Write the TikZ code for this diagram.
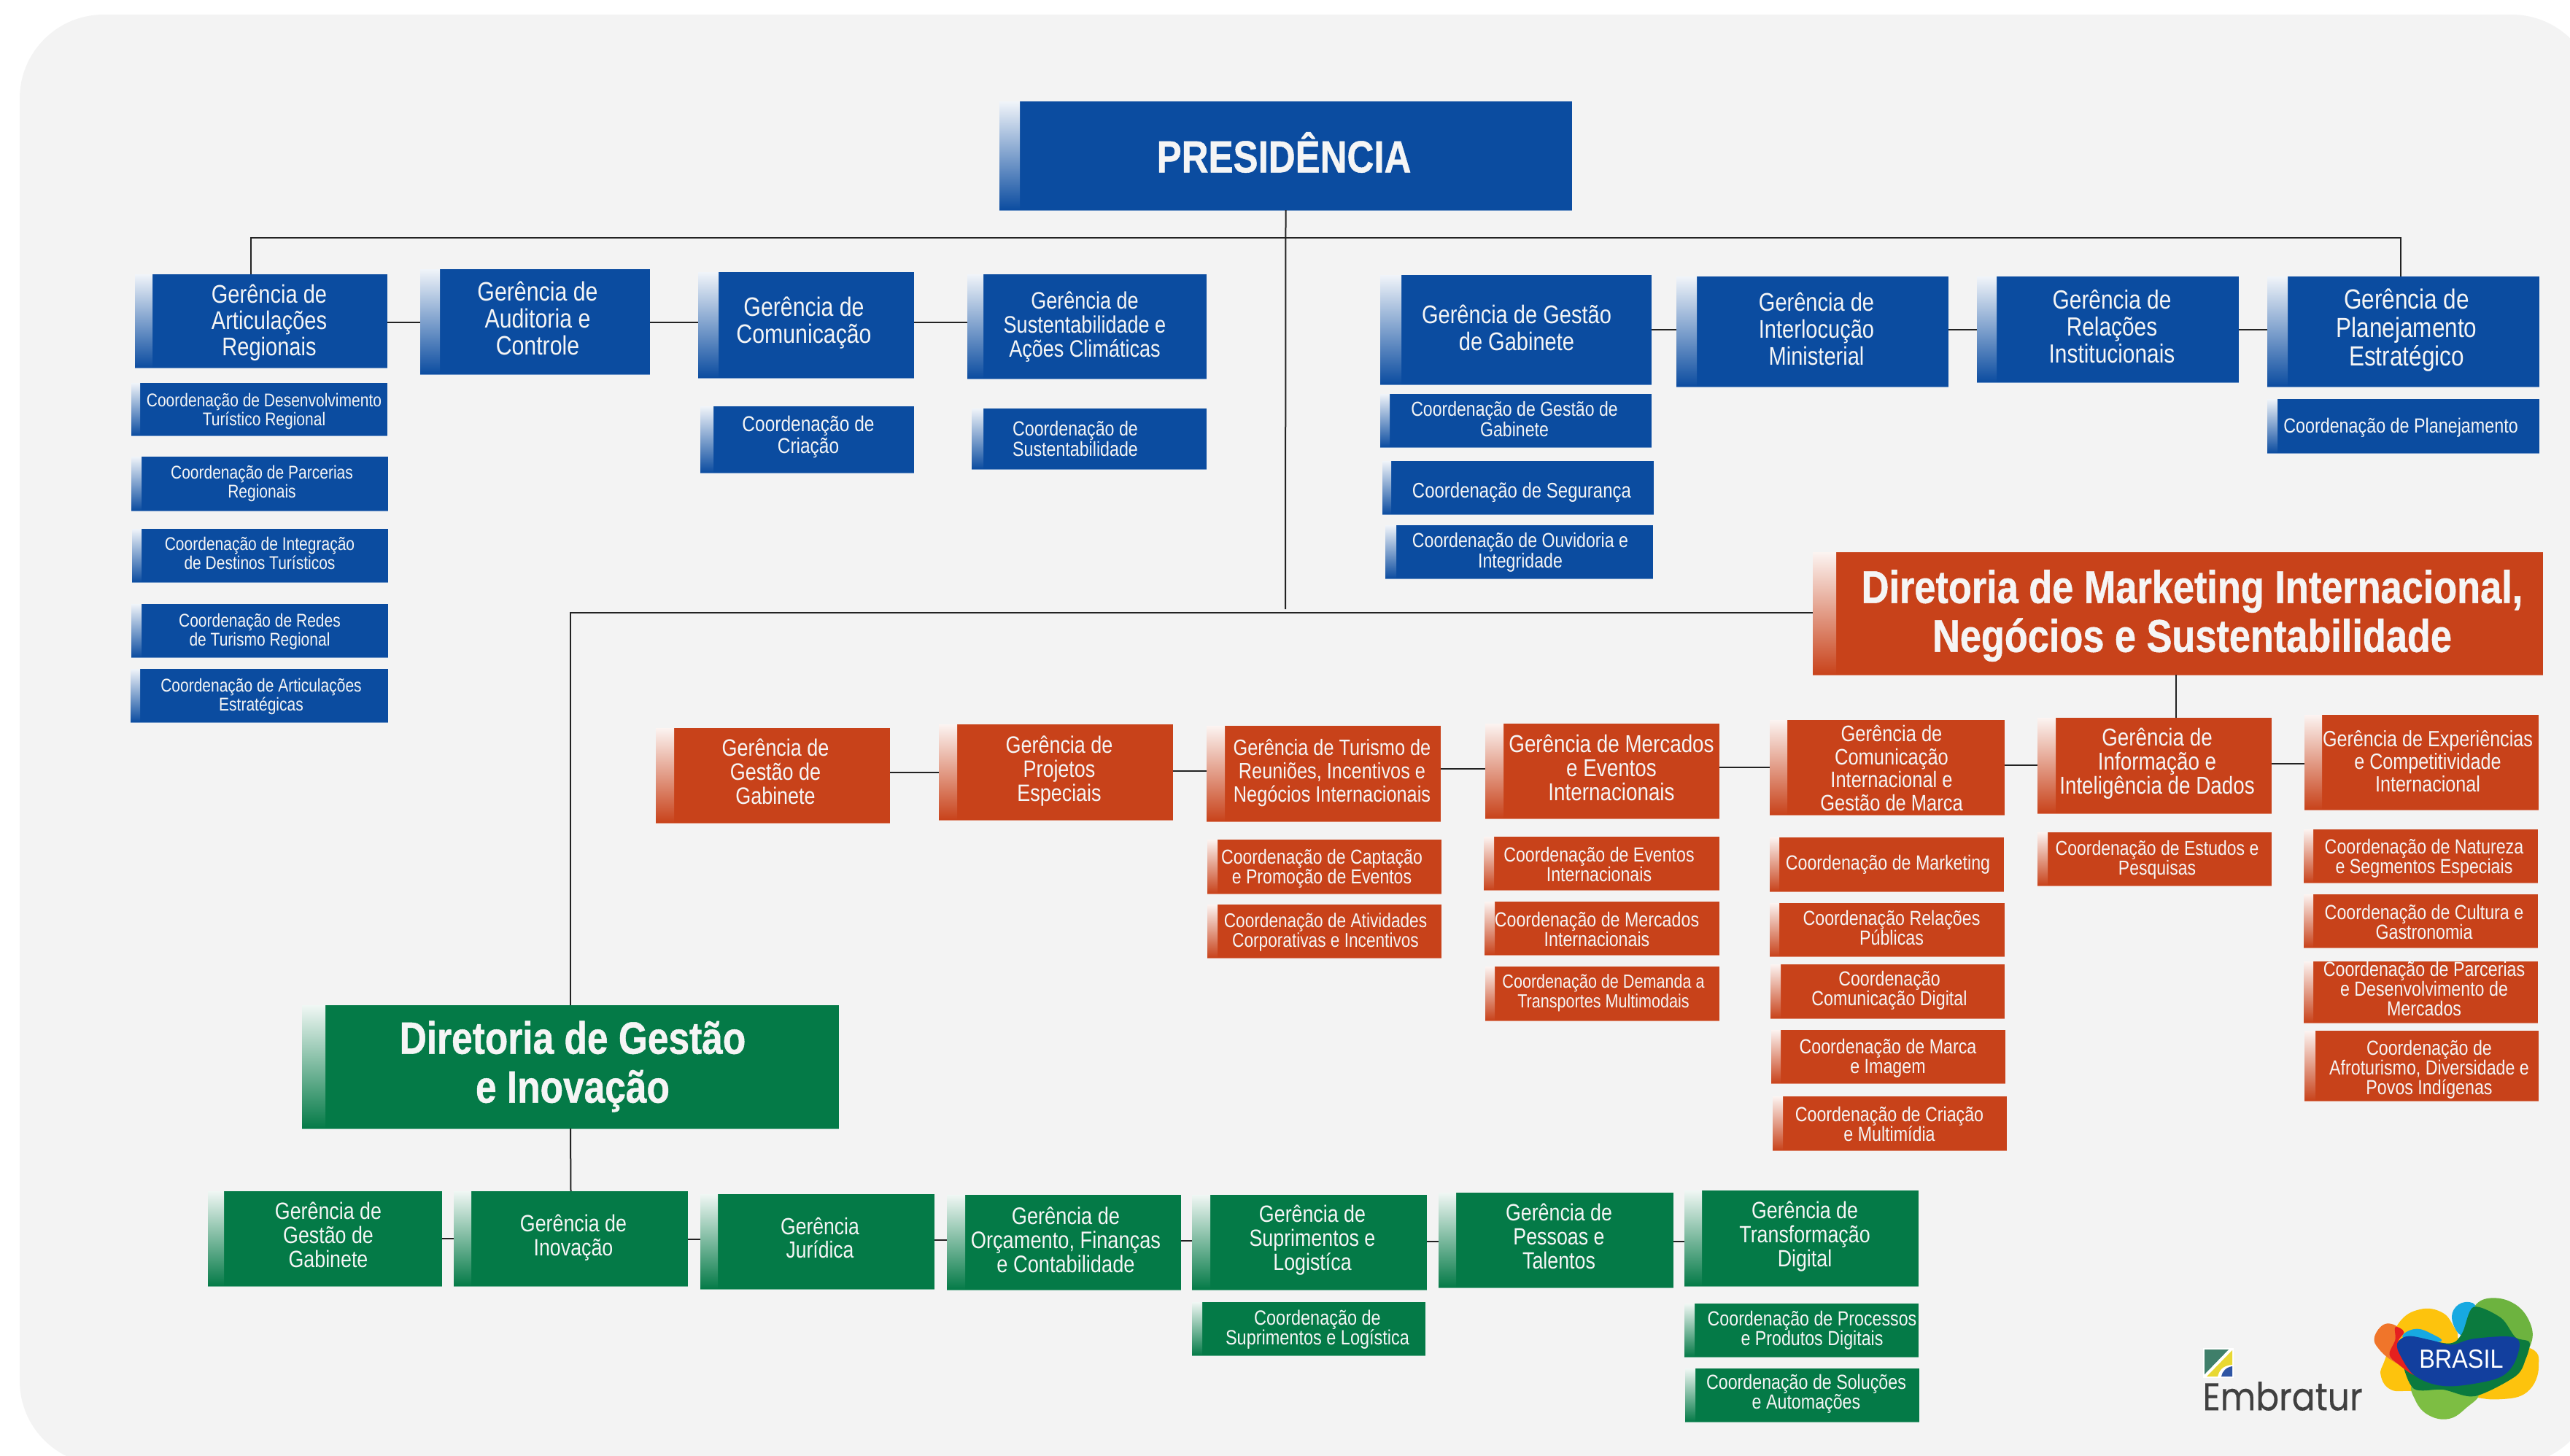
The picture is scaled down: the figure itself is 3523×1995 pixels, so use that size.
\documentclass[tikz,border=0pt]{standalone}
\usepackage{fontspec}
\setmainfont{Liberation Sans}
\newfontfamily\rcn[FakeStretch=0.83]{Liberation Sans}
\newfontfamily\rcb[FakeStretch=0.83,BoldFeatures={FakeBold=0.8}]{Liberation Sans}
\newfontfamily\brfont[FakeStretch=0.90]{Liberation Sans}
\newfontfamily\embfont[FakeStretch=0.89,FakeBold=0.3]{Poppins}
\definecolor{bluebox}{HTML}{0B4CA0}
\definecolor{redbox}{HTML}{C8421A}
\definecolor{greenbox}{HTML}{047A47}
\definecolor{pagebg}{HTML}{F3F3F3}
\definecolor{linecol}{HTML}{222222}
\definecolor{emgreen}{HTML}{3F7F6A}
\definecolor{emyellow}{HTML}{E8D832}
\definecolor{emblue}{HTML}{2F55A4}
\definecolor{logoyellow}{HTML}{FDC30D}
\definecolor{logogreen}{HTML}{6DB33F}
\definecolor{logocyan}{HTML}{17A9E1}
\definecolor{logolime}{HTML}{7DBE43}
\definecolor{logodark}{HTML}{0B7A3E}
\definecolor{logoorange}{HTML}{F0752A}
\definecolor{logored}{HTML}{E5201F}
\definecolor{logoblue}{HTML}{123F9E}
\def\bxgeom#1,#2,#3,#4,#5;{\def\bxXa{#1}\def\bxYa{#2}\def\bxXb{#3}\def\bxYb{#4}\def\bxXg{#5}}
\def\bxtxt#1,#2,#3,#4;{\def\bxTx{#1}\def\bxTy{#2}\def\bxFs{#3}\def\bxFl{#4}}
\newcommand\bx[6]{\bxgeom#2;\bxtxt#4;%
 \pgfmathsetmacro\bxCx{(\bxXa+\bxXb)/2}\pgfmathsetmacro\bxCy{(\bxYa+\bxYb)/2}%
 \pgfmathsetmacro\bxW{\bxXb-\bxXa}\pgfmathsetmacro\bxH{\bxYb-\bxYa}%
 \node[orgbox,fill=#3,minimum width=\bxW pt,minimum height=\bxH pt] (#1) at (\bxCx,\bxCy) {};%
 \shade[top color=#3!6!white,bottom color=#3] (\bxXa,\bxYa) rectangle (\bxXg,\bxYb);%
 \draw[#3!60!white,line width=1.4pt] (#1.south west) -- (#1.south east);%
 \node[orglabel,font=\fontsize{\bxFs}{\bxFl}\selectfont#5] (#1-t) at (\bxTx,\bxTy) {#6};}
\newcommand\hconn[3]{\draw[hline] (#1.east |- 0,#3) -- (#2.west |- 0,#3);}
\tikzset{
 orgbox/.style={rectangle,inner sep=0pt,draw=none},
 orglabel/.style={inner sep=0pt,align=center,text=white!96!black},
 hline/.style={draw=linecol,line width=2.6pt},
 vline/.style={draw=linecol,line width=2pt},
}
\begin{document}
\begin{tikzpicture}[x=1pt,y=-1pt]
\useasboundingbox (0,0) rectangle (3523,1995);
\clip (0,0) rectangle (3523,1995);
\fill[white] (0,0) rectangle (3523,1995);
\fill[pagebg,rounded corners=115pt] (27,20) rectangle (3558,2008);

% connector free ends
\coordinate (busL) at (344,326);
\coordinate (busR) at (3291,326);
\coordinate (busEnd) at (1762,835);
\coordinate (dirCorner) at (782,840);

% Presidencia
\bx{pres}{1370,139,2155,288,1398}{bluebox}{1760,209,61.5,70}{\rcb\bfseries}{PRESIDÊNCIA}

% Blue gerencias
\bx{gart}{185,376,531,504,209}{bluebox}{369,442,35,36}{\rcn}{Gerência de\\Articulações\\Regionais}
\bx{gaud}{576,369,891,513,603}{bluebox}{737,436,36.5,37}{\rcn}{Gerência de\\Auditoria e\\Controle}
\bx{gcom}{957,373,1253,518,985}{bluebox}{1102,443,36.5,37}{\rcn}{Gerência de\\Comunicação}
\bx{gsus}{1326,376,1654,519,1348}{bluebox}{1487,448,32.6,33}{\rcn}{Gerência de\\Sustentabilidade e\\Ações Climáticas}
\bx{ggab}{1892,377,2264,527,1921}{bluebox}{2079,449,35,37}{\rcn}{Gerência de Gestão\\de Gabinete}
\bx{gint}{2298,379,2671,530,2326}{bluebox}{2490,451,35,37}{\rcn}{Gerência de\\Interlocução\\Ministerial}
\bx{grel}{2710,379,3069,524,2737}{bluebox}{2895,448,36,37}{\rcn}{Gerência de\\Relações\\Institucionais}
\bx{gpla}{3108,379,3481,530,3136}{bluebox}{3299,453,38,39}{\rcn}{Gerência de\\Planejamento\\Estratégico}

% Blue coordenacoes
\bx{cdes}{180,525,531,597,192}{bluebox}{362,564,25.3,26}{\rcn}{Coordenação de Desenvolvimento\\Turístico Regional}
\bx{cpar}{180,626,532,700,194}{bluebox}{359,663,25.3,26}{\rcn}{Coordenação de Parcerias\\Regionais}
\bx{cint}{181,725,532,798,194}{bluebox}{356,758,25.3,26}{\rcn}{Coordenação de Integração\\de Destinos Turísticos}
\bx{cred}{180,828,532,901,194}{bluebox}{356,866,25.3,26}{\rcn}{Coordenação de Redes\\de Turismo Regional}
\bx{cart}{179,917,532,990,192}{bluebox}{358,955,25.3,26}{\rcn}{Coordenação de Articulações\\Estratégicas}
\bx{ccri}{960,557,1253,648,978}{bluebox}{1108,599,29.5,30}{\rcn}{Coordenação de\\Criação}
\bx{csus}{1332,560,1654,643,1348}{bluebox}{1474,601,28,28}{\rcn}{Coordenação de\\Sustentabilidade}
\bx{cgab}{1892,540,2264,613,1905}{bluebox}{2076,575,27.8,28}{\rcn}{Coordenação de Gestão de\\Gabinete}
\bx{cseg}{1895,632,2267,705,1907}{bluebox}{2086,675,28.9,29}{\rcn}{Coordenação de Segurança}
\bx{couv}{1899,720,2266,793,1914}{bluebox}{2084,757,27.9,28}{\rcn}{Coordenação de Ouvidoria e\\Integridade}
\bx{cpla}{3108,547,3481,621,3122}{bluebox}{3291,586,28.1,28}{\rcn}{Coordenação de Planejamento}

% Diretoria Marketing
\bx{dmkt}{2485,757,3486,925,2517}{redbox}{3005,844,63,67}{\rcb\bfseries}{Diretoria de Marketing Internacional,\\Negócios e Sustentabilidade}

% Red gerencias
\bx{rgab}{899,998,1220,1128,924}{redbox}{1063,1058,32.5,33}{\rcn}{Gerência de\\Gestão de\\Gabinete}
\bx{rpro}{1287,993,1608,1124,1312}{redbox}{1452,1057,32.5,33}{\rcn}{Gerência de\\Projetos\\Especiais}
\bx{rtur}{1654,995,1975,1126,1679}{redbox}{1826,1060,30.5,32}{\rcn}{Gerência de Turismo de\\Reuniões, Incentivos e\\Negócios Internacionais}
\bx{rmer}{2036,992,2357,1122,2061}{redbox}{2209,1052,33.5,33}{\rcn}{Gerência de Mercados\\e Eventos\\Internacionais}
\bx{rcom}{2426,987,2748,1117,2450}{redbox}{2593,1053,30.7,31.7}{\rcn}{Gerência de\\Comunicação\\Internacional e\\Gestão de Marca}
\bx{rinf}{2793,984,3114,1115,2818}{redbox}{2957,1047,33.5,33}{\rcn}{Gerência de\\Informação e\\Inteligência de Dados}
\bx{rexp}{3159,980,3480,1110,3183}{redbox}{3328,1044,30.3,31}{\rcn}{Gerência de Experiências\\e Competitividade\\Internacional}

% Red coordenacoes
\bx{rcap}{1655,1151,1976,1225,1669}{redbox}{1812,1191,27.8,27}{\rcn}{Coordenação de Captação\\e Promoção de Eventos}
\bx{rati}{1655,1240,1976,1313,1669}{redbox}{1817,1278,27.3,27}{\rcn}{Coordenação de Atividades\\Corporativas e Incentivos}
\bx{reve}{2034,1147,2357,1220,2048}{redbox}{2192,1185,27.9,27}{\rcn}{Coordenação de Eventos\\Internacionais}
\bx{rmin}{2035,1236,2357,1309,2049}{redbox}{2189,1274,28,27}{\rcn}{Coordenação de Mercados\\Internacionais}
\bx{rdem}{2036,1325,2357,1399,2049}{redbox}{2198,1361,26,27}{\rcn}{Coordenação de Demanda a\\Transportes Multimodais}
\bx{rmkt}{2426,1148,2747,1222,2439}{redbox}{2588,1185,28,27}{\rcn}{Coordenação de Marketing}
\bx{rrel}{2426,1238,2748,1311,2439}{redbox}{2593,1272,28,27}{\rcn}{Coordenação Relações\\Públicas}
\bx{rdig}{2427,1322,2748,1396,2441}{redbox}{2590,1358,28,27}{\rcn}{Coordenação\\Comunicação Digital}
\bx{rmar}{2428,1412,2749,1485,2441}{redbox}{2588,1451,28,27}{\rcn}{Coordenação de Marca\\e Imagem}
\bx{rcri}{2430,1503,2751,1577,2444}{redbox}{2590,1541,28,27}{\rcn}{Coordenação de Criação\\e Multimídia}
\bx{rest}{2793,1141,3114,1214,2807}{redbox}{2957,1179,27.7,27}{\rcn}{Coordenação de Estudos e\\Pesquisas}
\bx{rnat}{3158,1137,3479,1210,3171}{redbox}{3323,1177,28,27}{\rcn}{Coordenação de Natureza\\e Segmentos Especiais}
\bx{rcul}{3158,1226,3479,1299,3171}{redbox}{3323,1264,28,27}{\rcn}{Coordenação de Cultura e\\Gastronomia}
\bx{rpar}{3158,1318,3479,1402,3171}{redbox}{3323,1355,28,27}{\rcn}{Coordenação de Parcerias\\e Desenvolvimento de\\Mercados}
\bx{rafr}{3159,1413,3480,1509,3174}{redbox}{3330,1466,28,27}{\rcn}{Coordenação de\\Afroturismo, Diversidade e\\Povos Indígenas}

% Diretoria Gestao
\bx{dges}{414,1378,1150,1547,446}{greenbox}{785,1462,62,67}{\rcb\bfseries}{Diretoria de Gestão\\e Inovação}

% Green gerencias
\bx{vgab}{285,1633,606,1763,307}{greenbox}{450,1693,32.3,33}{\rcn}{Gerência de\\Gestão de\\Gabinete}
\bx{vino}{622,1633,943,1763,646}{greenbox}{786,1697,32.3,33}{\rcn}{Gerência de\\Inovação}
\bx{vjur}{960,1637,1281,1767,984}{greenbox}{1124,1697,32,32}{\rcn}{Gerência\\Jurídica}
\bx{vorc}{1298,1638,1619,1768,1323}{greenbox}{1461,1700,32.8,33}{\rcn}{Gerência de\\Orçamento, Finanças\\e Contabilidade}
\bx{vsup}{1634,1638,1956,1768,1659}{greenbox}{1799,1700,32.3,33}{\rcn}{Gerência de\\Suprimentos e\\Logistíca}
\bx{vpes}{1972,1635,2294,1765,1996}{greenbox}{2137,1695,32.3,33}{\rcn}{Gerência de\\Pessoas e\\Talentos}
\bx{vtra}{2309,1632,2630,1763,2333}{greenbox}{2474,1695,32.3,33}{\rcn}{Gerência de\\Transformação\\Digital}

% Green coordenacoes
\bx{vcsu}{1634,1785,1954,1858,1648}{greenbox}{1806,1823,28.3,27}{\rcn}{Coordenação de\\Suprimentos e Logística}
\bx{vcpr}{2309,1787,2630,1860,2323}{greenbox}{2484,1824,28,27}{\rcn}{Coordenação de Processos\\e Produtos Digitais}
\bx{vcso}{2310,1876,2631,1949,2324}{greenbox}{2476,1911,28,27}{\rcn}{Coordenação de Soluções\\e Automações}

% Connectors
\draw[vline] (pres.south) -- (busEnd);
\draw[vline] (gart.north -| busL) -- (busL) -- (busR) -- (gpla.north -| busR);
\hconn{gart}{gaud}{442}
\hconn{gaud}{gcom}{442}
\hconn{gcom}{gsus}{442}
\hconn{ggab}{gint}{452}
\hconn{gint}{grel}{452}
\hconn{grel}{gpla}{452}
\draw[vline] (dmkt.west |- 0,840) -- (dirCorner) -- (dges.north);
\draw[vline] (dmkt.south -| 2983,0) -- (rinf.north -| 2983,0);
\hconn{rgab}{rpro}{1059}
\hconn{rpro}{rtur}{1057}
\hconn{rtur}{rmer}{1054}
\hconn{rmer}{rcom}{1052}
\hconn{rcom}{rinf}{1049}
\hconn{rinf}{rexp}{1047}
\draw[vline] (dges.south) -- (vino.north);
\hconn{vgab}{vino}{1698}
\hconn{vino}{vjur}{1699}
\hconn{vjur}{vorc}{1700}
\hconn{vorc}{vsup}{1701}
\hconn{vsup}{vpes}{1702}
\hconn{vpes}{vtra}{1702}

% Embratur logo
\fill[white] (3020,1848) rectangle (3062,1889);
\fill[emgreen] (3022,1850) -- (3055,1850) -- (3022,1884) -- cycle;
\fill[emyellow] (3060,1851) -- (3060,1871) .. controls (3045,1872) and (3042,1880) .. (3040,1887) -- (3025,1887) -- cycle;
\fill[emblue] (3060,1873) -- (3060,1887) -- (3045,1887) .. controls (3046,1880) and (3052,1874) .. (3060,1873) -- cycle;
\node[inner sep=0pt,anchor=center,text=black!75,font=\fontsize{53}{60}\selectfont\embfont] (embr) at (3129,1914) {Embratur};

% Brasil logo (coordinates in a local frame)
\begin{scope}[shift={(2900,1700)},x=0.3973pt,y=-0.3333pt]
 \fill[logoyellow] plot[smooth cycle,tension=0.7] coordinates {(975,345) (1050,285) (1130,300) (1175,370) (1210,420) (1420,440) (1460,520) (1420,625) (1320,655) (1200,640) (1030,622) (950,615) (915,555) (930,490)};
 \fill[logogreen] plot[smooth cycle,tension=0.7] coordinates {(1240,270) (1300,238) (1380,265) (1430,340) (1435,420) (1395,470) (1300,420) (1225,350)};
 \fill[logocyan] plot[smooth cycle,tension=0.7] coordinates {(1162,300) (1195,258) (1240,266) (1228,320) (1200,390) (1170,360)};
 \fill[logolime] plot[smooth cycle,tension=0.7] coordinates {(1030,590) (1035,660) (1080,720) (1150,735) (1210,690) (1250,630) (1150,590)};
 \fill[logodark] plot[smooth cycle,tension=0.5] coordinates {(1000,400) (1150,425) (1195,385) (1235,275) (1330,320) (1380,400) (1428,420) (1415,490) (1380,560) (1240,642) (1130,615) (1030,612) (990,500)};
 \fill[logoorange] plot[smooth cycle,tension=0.7] coordinates {(893,400) (930,345) (980,365) (975,420) (985,490) (1030,540) (960,500) (910,450)};
 \fill[logored] plot[smooth cycle,tension=0.6] coordinates {(965,358) (995,378) (975,430) (1030,520) (1030,555) (975,510) (945,470) (965,410)};
 \fill[logocyan] plot[smooth cycle,tension=0.7] coordinates {(995,385) (1040,365) (1090,385) (1125,415) (1060,420) (1000,410)};
 \fill[logoblue] plot[smooth cycle,tension=0.6] coordinates {(972,425) (1010,395) (1090,412) (1160,430) (1240,405) (1380,402) (1385,480) (1340,555) (1250,588) (1130,600) (1035,560) (985,480)};
 \node[inner sep=0pt,text=white,font=\fontsize{36}{40}\selectfont\brfont] (bras) at (1193,490) {BRASIL};
\end{scope}
\end{tikzpicture}
\end{document}
